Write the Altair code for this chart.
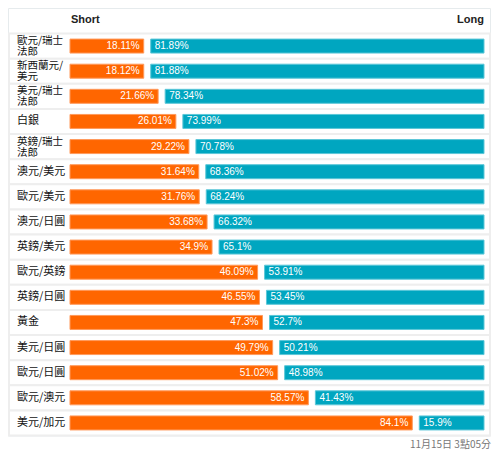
import altair as alt
import pandas as pd

pairs = ["歐元/瑞士\n法郎", "新西蘭元/\n美元", "美元/瑞士\n法郎", "白銀", "英鎊/瑞士\n法郎",
         "澳元/美元", "歐元/美元", "澳元/日圓", "英鎊/美元", "歐元/英鎊", "英鎊/日圓",
         "黃金", "美元/日圓", "歐元/日圓", "歐元/澳元", "美元/加元"]
short_pct = [18.11, 18.12, 21.66, 26.01, 29.22, 31.64, 31.76, 33.68, 34.9, 46.09, 46.55,
             47.3, 49.79, 51.02, 58.57, 84.1]
long_pct = [81.89, 81.88, 78.34, 73.99, 70.78, 68.36, 68.24, 66.32, 65.1, 53.91, 53.45,
            52.7, 50.21, 48.98, 41.43, 15.9]
header_short = "Short"
header_long = "Long"
timestamp = "11月15日 3點05分"

df = pd.DataFrame({"pair": pairs, "short": short_pct, "long": long_pct, "total": [100] * len(pairs)})
df["two"] = df["pair"].str.contains("\n")

W, H = 484, 442
ROW_TOP, ROW_BOT = 25.5, 427.5

y = alt.Y("pair:N", sort=pairs, axis=None,
          scale=alt.Scale(range=[ROW_TOP, ROW_BOT], paddingInner=0, paddingOuter=0))
xs = alt.Scale(domain=[0, 100], range=[62, 469])

base = alt.Chart(df)

panel = alt.Chart(pd.DataFrame({"a": [0]})).mark_rect(
    fill="white", stroke="#e6ebed", strokeWidth=1
).encode(x=alt.value(0.5), x2=alt.value(482.5), y=alt.value(0.5), y2=alt.value(428))

rows = base.mark_rect(fill="white", stroke="#eeeeee", strokeWidth=2).encode(
    x=alt.value(1), x2=alt.value(482), y=y
)

short_bar = base.mark_bar(size=14, color="#ff6600", stroke="#ff9a5c", strokeWidth=1).encode(
    x=alt.X("zero:Q", scale=xs, axis=None), x2="short:Q", y=y
).transform_calculate(zero="0")

long_bar = base.mark_bar(size=14, color="#00a6c0", stroke="#5cc7d8", strokeWidth=1,
                         xOffset=7, x2Offset=7).encode(
    x=alt.X("short:Q", scale=xs, axis=None), x2="total:Q", y=y
)

short_lbl = base.transform_calculate(lbl="datum.short + '%'").mark_text(
    align="right", baseline="middle", color="white", fontSize=10, dx=-4,
    font="Liberation Sans"
).encode(x=alt.X("short:Q", scale=xs, axis=None), y=y, text="lbl:N")

long_lbl = base.transform_calculate(lbl="datum.long + '%'").mark_text(
    align="left", baseline="middle", color="white", fontSize=10, dx=11,
    font="Liberation Sans"
).encode(x=alt.X("short:Q", scale=xs, axis=None), y=y, text="lbl:N")

names_one = base.transform_filter("!datum.two").mark_text(
    align="left", baseline="middle", color="#111111", fontSize=11,
    font="Noto Sans CJK TC"
).encode(x=alt.value(9), y=y, text="pair:N")

names_two = base.transform_filter("datum.two").mark_text(
    align="left", baseline="middle", color="#111111", fontSize=10.5, lineHeight=11,
    lineBreak="\n", font="Noto Sans CJK TC", dy=-5
).encode(x=alt.value(9), y=y, text="pair:N")

hdr = pd.DataFrame({"t": [header_short]})
hdr_s = alt.Chart(hdr).mark_text(align="left", baseline="middle", fontSize=11,
                                  fontWeight="bold", color="#222222", font="Liberation Sans").encode(
    x=alt.value(63), y=alt.value(12), text="t:N")
hdr_l = alt.Chart(pd.DataFrame({"t": [header_long]})).mark_text(
    align="right", baseline="middle", fontSize=11, fontWeight="bold", color="#222222",
    font="Liberation Sans").encode(x=alt.value(476), y=alt.value(12), text="t:N")
ts = alt.Chart(pd.DataFrame({"t": [timestamp]})).mark_text(
    align="right", baseline="middle", fontSize=10, color="#777777",
    font="Noto Sans CJK TC").encode(x=alt.value(483), y=alt.value(437), text="t:N")

chart = alt.layer(panel, rows, short_bar, long_bar, short_lbl, long_lbl, names_one, names_two,
                  hdr_s, hdr_l, ts).properties(
    width=W, height=H, autosize=alt.AutoSizeParams(type="none"), padding=0, background="white"
).configure_view(strokeWidth=0)

chart.save("out.html", embed_options={"renderer": "svg", "actions": False})
